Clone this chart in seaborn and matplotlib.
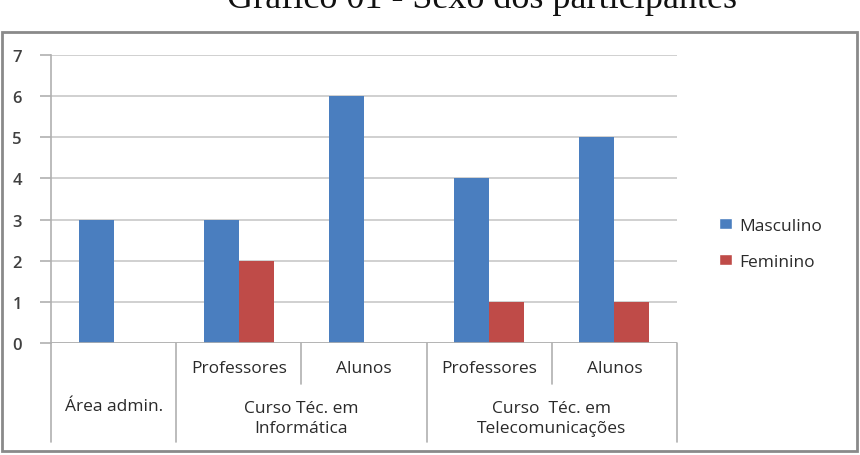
import matplotlib
matplotlib.use("Agg")
import matplotlib.pyplot as plt
import seaborn as sns
import pandas as pd
import numpy as np
from matplotlib.patches import Rectangle, Patch

# ---- data ----
categories = ["Área admin.", "Professores", "Alunos", "Professores ", "Alunos "]
row1_labels = ["", "Professores", "Alunos", "Professores", "Alunos"]
group_labels = ["Área admin.", "Curso Téc. em\nInformática", "Curso  Téc. em\nTelecomunicações"]
group_spans = [(0, 1), (1, 3), (3, 5)]
masculino = [3, 3, 6, 4, 5]
feminino = [0, 2, 0, 1, 1]
series = ["Masculino", "Feminino"]
title = "Gráfico 01 - Sexo dos participantes"

df = pd.DataFrame({
    "cat": categories * 2,
    "sexo": [series[0]] * 5 + [series[1]] * 5,
    "valor": masculino + feminino,
})

sns.set_theme(style="white")
plt.rcParams["font.family"] = ["Open Sans", "DejaVu Sans"]

W, H = 860, 456
fig = plt.figure(figsize=(W / 100, H / 100), dpi=100)
x0, x1, y0, y1 = 51, 677, 344, 56
ax = fig.add_axes([x0 / W, 1 - y0 / H, (x1 - x0) / W, (y0 - y1) / H])

blue = "#4A7EBF"
red = "#BF4B48"
sns.barplot(data=df, x="cat", y="valor", hue="sexo", order=categories,
            hue_order=series, palette=[blue, red], width=0.56, saturation=1,
            linewidth=0, ax=ax, legend=False)

ax.set_ylim(0, 7)
ax.set_xlim(-0.5, 4.5)
ax.set_yticks(range(0, 8))
ax.yaxis.grid(True, color="#c8c8c8", linewidth=1.2)
ax.set_axisbelow(True)
for s in ["top", "right", "bottom"]:
    ax.spines[s].set_visible(False)
ax.spines["left"].set_color("#b0b0b0")
ax.spines["left"].set_linewidth(1.2)
ax.set_xlabel("")
ax.set_ylabel("")
ax.set_xticks([])
ax.tick_params(axis="y", length=8, color="#b0b0b0", width=1.2, pad=13,
               labelsize=12, labelcolor="#404040", left=True)
for t in ax.get_yticklabels():
    t.set_fontweight("semibold")

# bottom axis line
ax.axhline(0, color="#b0b0b0", linewidth=1.2, zorder=3)

# multi-level category labels
trans = ax.get_xaxis_transform()
ph = (y0 - y1)
def ay(py):
    return (y0 - py) / ph

txtc = "#2a2a2a"
fs = 12.5
for i, lab in enumerate(row1_labels):
    if lab:
        ax.text(i, ay(369), lab, transform=trans, ha="center", va="center",
                fontsize=fs, color=txtc, clip_on=False)
for (a, b), lab in zip(group_spans, group_labels):
    ax.text((a + b - 1) / 2, ay(419) if "\n" in lab else ay(407), lab,
            transform=trans, ha="center", va="center", fontsize=fs,
            color=txtc, linespacing=1.3, clip_on=False)

# separator lines
long_b = [-0.5, 0.5, 2.5, 4.5]
short_b = [1.5, 3.5]
for b in long_b:
    ax.plot([b, b], [0, ay(443)], transform=trans, color="#b0b0b0",
            linewidth=1.2, clip_on=False)
for b in short_b:
    ax.plot([b, b], [0, ay(385)], transform=trans, color="#b0b0b0",
            linewidth=1.2, clip_on=False)

# legend
handles = [Patch(facecolor=blue, label=series[0]), Patch(facecolor=red, label=series[1])]
fig.legend(handles=handles, loc="center left", bbox_to_anchor=(703 / W, 1 - 245 / H),
           frameon=False, fontsize=12.5, handlelength=0.75, handleheight=0.6,
           labelspacing=1.15, handletextpad=0.45, labelcolor=txtc)

# outer frame
fig.patches.append(Rectangle((2 / W, 1 - 452 / H), 855 / W, (452 - 33) / H,
                             transform=fig.transFigure, fill=False,
                             edgecolor="#8a8a8a", linewidth=2))

# title (partially cropped at top)
fig.text(482 / W, 1 - 8 / H, title, ha="center", va="baseline",
         fontsize=26, family=["Liberation Serif", "DejaVu Serif"], color="#111111")

fig.savefig("out.png", dpi=100)
